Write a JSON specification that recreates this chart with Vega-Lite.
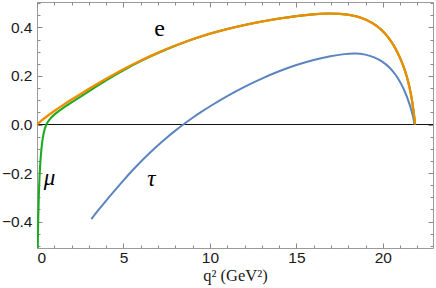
{
  "$schema": "https://vega.github.io/schema/vega-lite/v6.json",
  "width": 396,
  "height": 246,
  "autosize": "none",
  "padding": {"left": 37, "top": 2, "right": 3, "bottom": 40},
  "background": "white",
  "view": {"stroke": "#9a9a9a", "strokeWidth": 1},
  "config": {
    "axis": {
      "grid": false,
      "domain": false,
      "labelFont": "Liberation Sans",
      "labelFontSize": 15.5,
      "labelColor": "#1a1a1a",
      "titleFont": "Liberation Serif",
      "titleFontWeight": "normal",
      "titleColor": "#1a1a1a"
    }
  },
  "datasets": {
    "tau": [
      {"x": 3.14, "y": -0.39}, {"x": 3.5, "y": -0.357}, {"x": 4.0, "y": -0.313}, {"x": 4.5, "y": -0.271},
      {"x": 5.0, "y": -0.23}, {"x": 5.5, "y": -0.19}, {"x": 6.0, "y": -0.153}, {"x": 6.5, "y": -0.118},
      {"x": 7.0, "y": -0.085}, {"x": 7.5, "y": -0.054}, {"x": 8.0, "y": -0.025}, {"x": 8.5, "y": 0.002},
      {"x": 9.0, "y": 0.028}, {"x": 9.5, "y": 0.052}, {"x": 10.0, "y": 0.075}, {"x": 11.0, "y": 0.118},
      {"x": 12.0, "y": 0.156}, {"x": 13.0, "y": 0.19}, {"x": 14.0, "y": 0.22}, {"x": 15.0, "y": 0.246},
      {"x": 16.0, "y": 0.267}, {"x": 17.0, "y": 0.283}, {"x": 17.8, "y": 0.291}, {"x": 18.4, "y": 0.294},
      {"x": 19.0, "y": 0.289}, {"x": 19.5, "y": 0.278}, {"x": 20.0, "y": 0.259}, {"x": 20.4, "y": 0.235},
      {"x": 20.75, "y": 0.205}, {"x": 21.05, "y": 0.17}, {"x": 21.3, "y": 0.132}, {"x": 21.5, "y": 0.094},
      {"x": 21.65, "y": 0.06}, {"x": 21.75, "y": 0.032}, {"x": 21.8, "y": 0.014}, {"x": 21.82, "y": 0.0}
    ],
    "mu": [
      {"x": 0.035, "y": -0.56}, {"x": 0.05, "y": -0.47}, {"x": 0.07, "y": -0.39}, {"x": 0.1, "y": -0.3},
      {"x": 0.14, "y": -0.22}, {"x": 0.19, "y": -0.155}, {"x": 0.26, "y": -0.095}, {"x": 0.34, "y": -0.05},
      {"x": 0.44, "y": -0.018}, {"x": 0.53, "y": 0.0}, {"x": 0.7, "y": 0.02}, {"x": 1.0, "y": 0.042},
      {"x": 1.5, "y": 0.068}, {"x": 2.0, "y": 0.091}, {"x": 2.5, "y": 0.114}, {"x": 3.0, "y": 0.137},
      {"x": 4.0, "y": 0.183}, {"x": 5.0, "y": 0.224}, {"x": 6.0, "y": 0.262}, {"x": 7.0, "y": 0.295},
      {"x": 8.0, "y": 0.325}, {"x": 9.0, "y": 0.352}, {"x": 10.0, "y": 0.375}, {"x": 11.0, "y": 0.394},
      {"x": 12.0, "y": 0.41}, {"x": 13.0, "y": 0.425}, {"x": 14.0, "y": 0.437}, {"x": 15.0, "y": 0.447},
      {"x": 16.0, "y": 0.455}, {"x": 16.8, "y": 0.458}, {"x": 17.5, "y": 0.457}, {"x": 18.2, "y": 0.451},
      {"x": 18.8, "y": 0.44}, {"x": 19.4, "y": 0.42}, {"x": 19.9, "y": 0.393}, {"x": 20.3, "y": 0.362},
      {"x": 20.65, "y": 0.325}, {"x": 20.95, "y": 0.283}, {"x": 21.2, "y": 0.24}, {"x": 21.4, "y": 0.196},
      {"x": 21.55, "y": 0.152}, {"x": 21.67, "y": 0.108}, {"x": 21.76, "y": 0.064}, {"x": 21.82, "y": 0.03},
      {"x": 21.85, "y": 0.01}, {"x": 21.86, "y": 0.0}
    ],
    "e": [
      {"x": 0.0, "y": 0.0}, {"x": 0.25, "y": 0.016}, {"x": 0.5, "y": 0.03}, {"x": 1.0, "y": 0.056},
      {"x": 1.5, "y": 0.08}, {"x": 2.0, "y": 0.103}, {"x": 2.5, "y": 0.125}, {"x": 3.0, "y": 0.147},
      {"x": 4.0, "y": 0.189}, {"x": 5.0, "y": 0.228}, {"x": 6.0, "y": 0.264}, {"x": 7.0, "y": 0.297},
      {"x": 8.0, "y": 0.326}, {"x": 9.0, "y": 0.352}, {"x": 10.0, "y": 0.375}, {"x": 11.0, "y": 0.394},
      {"x": 12.0, "y": 0.41}, {"x": 13.0, "y": 0.425}, {"x": 14.0, "y": 0.437}, {"x": 15.0, "y": 0.447},
      {"x": 16.0, "y": 0.455}, {"x": 16.8, "y": 0.458}, {"x": 17.5, "y": 0.457}, {"x": 18.2, "y": 0.451},
      {"x": 18.8, "y": 0.44}, {"x": 19.4, "y": 0.42}, {"x": 19.9, "y": 0.393}, {"x": 20.3, "y": 0.362},
      {"x": 20.65, "y": 0.325}, {"x": 20.95, "y": 0.283}, {"x": 21.2, "y": 0.24}, {"x": 21.4, "y": 0.196},
      {"x": 21.55, "y": 0.152}, {"x": 21.67, "y": 0.108}, {"x": 21.76, "y": 0.064}, {"x": 21.82, "y": 0.03},
      {"x": 21.85, "y": 0.01}, {"x": 21.86, "y": 0.0}
    ],
    "latin": [{"x": 7.09, "y": 0.392, "t": "e"}],
    "greek": [{"x": 0.72, "y": -0.219, "t": "μ"}, {"x": 6.61, "y": -0.226, "t": "τ"}],
    "anchor": [{"x": 0, "y": 0}]
  },
  "resolve": {"axis": {"x": "independent", "y": "independent"}},
  "layer": [
    {
      "data": {"name": "anchor"},
      "mark": {"type": "point", "opacity": 0},
      "encoding": {
        "x": {"field": "x", "type": "quantitative",
          "scale": {"domain": [0, 22.9], "nice": false, "zero": false},
          "axis": {"orient": "bottom", "values": [0, 5, 10, 15, 20], "ticks": false, "labelPadding": 2,
            "title": "q² (GeV²)", "titleFontSize": 16.5, "titlePadding": 2}},
        "y": {"field": "y", "type": "quantitative",
          "scale": {"domain": [-0.509, 0.505], "nice": false, "zero": false},
          "axis": {"orient": "left", "values": [-0.4, -0.2, 0, 0.2, 0.4], "format": ".1f", "ticks": false,
            "labelPadding": 5, "title": null}}
      }
    },
    {
      "data": {"values": [{"y": 0}]},
      "mark": {"type": "rule", "color": "#111111", "strokeWidth": 1},
      "encoding": {"y": {"field": "y", "type": "quantitative",
        "axis": {"orient": "right", "values": [-0.5, -0.45, -0.35, -0.3, -0.25, -0.15, -0.1, -0.05, 0.05, 0.1, 0.15, 0.25, 0.3, 0.35, 0.45, 0.5], "labels": false, "ticks": true, "tickColor": "#8a8a8a", "tickSize": -3, "title": null}}}
    },
    {
      "data": {"name": "tau"},
      "mark": {"type": "line", "color": "#5b84c0", "strokeWidth": 2, "clip": true, "interpolate": "basis"},
      "encoding": {
        "x": {"field": "x", "type": "quantitative",
          "axis": {"orient": "bottom", "values": [0, 5, 10, 15, 20], "labels": false, "ticks": true, "tickColor": "#8a8a8a", "tickSize": -5, "title": null}},
        "y": {"field": "y", "type": "quantitative",
          "axis": {"orient": "left", "values": [-0.4, -0.2, 0, 0.2, 0.4], "labels": false, "ticks": true, "tickColor": "#8a8a8a", "tickSize": -5, "title": null}}
      }
    },
    {
      "data": {"name": "mu"},
      "mark": {"type": "line", "color": "#1eaa1e", "strokeWidth": 2.1, "clip": true, "interpolate": "basis"},
      "encoding": {
        "x": {"field": "x", "type": "quantitative",
          "axis": {"orient": "top", "values": [0, 5, 10, 15, 20], "labels": false, "ticks": true, "tickColor": "#8a8a8a", "tickSize": -5, "title": null}},
        "y": {"field": "y", "type": "quantitative",
          "axis": {"orient": "right", "values": [-0.4, -0.2, 0, 0.2, 0.4], "labels": false, "ticks": true, "tickColor": "#8a8a8a", "tickSize": -5, "title": null}}
      }
    },
    {
      "data": {"name": "e"},
      "mark": {"type": "line", "color": "#f08c00", "strokeWidth": 2.3, "clip": true, "interpolate": "basis"},
      "encoding": {
        "x": {"field": "x", "type": "quantitative",
          "axis": {"orient": "bottom", "values": [1, 2, 3, 4, 6, 7, 8, 9, 11, 12, 13, 14, 16, 17, 18, 19, 21, 22], "labels": false, "ticks": true, "tickColor": "#8a8a8a", "tickSize": -3, "title": null}},
        "y": {"field": "y", "type": "quantitative",
          "axis": {"orient": "left", "values": [-0.5, -0.45, -0.35, -0.3, -0.25, -0.15, -0.1, -0.05, 0.05, 0.1, 0.15, 0.25, 0.3, 0.35, 0.45, 0.5], "labels": false, "ticks": true, "tickColor": "#8a8a8a", "tickSize": -3, "title": null}}
      }
    },
    {
      "data": {"name": "latin"},
      "mark": {"type": "text", "font": "Liberation Serif", "fontSize": 24, "color": "black", "baseline": "middle"},
      "encoding": {
        "x": {"field": "x", "type": "quantitative", "axis": null},
        "y": {"field": "y", "type": "quantitative", "axis": null},
        "text": {"field": "t"}
      }
    },
    {
      "data": {"name": "greek"},
      "mark": {"type": "text", "font": "Liberation Serif", "fontSize": 23, "fontStyle": "italic", "color": "black", "baseline": "middle"},
      "encoding": {
        "x": {"field": "x", "type": "quantitative",
          "axis": {"orient": "top", "values": [1, 2, 3, 4, 6, 7, 8, 9, 11, 12, 13, 14, 16, 17, 18, 19, 21, 22], "labels": false, "ticks": true, "tickColor": "#8a8a8a", "tickSize": -3, "title": null}},
        "y": {"field": "y", "type": "quantitative", "axis": null},
        "text": {"field": "t"}
      }
    }
  ]
}
